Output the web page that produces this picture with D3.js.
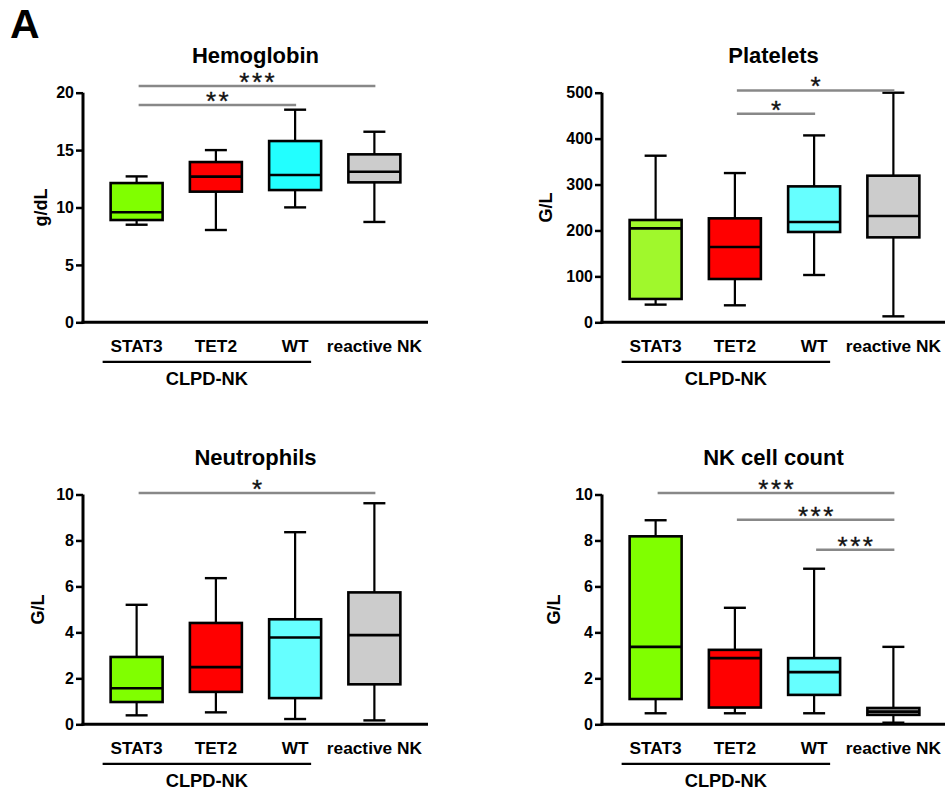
<!DOCTYPE html>
<html>
<head>
<meta charset="utf-8">
<script src="https://cdn.jsdelivr.net/npm/d3@7"></script>
<style>
  html, body { margin: 0; padding: 0; background: #fff; }
  svg { display: block; }
  text { font-family: "Liberation Sans", Arial, Helvetica, sans-serif; }
</style>
</head>
<body>
<svg id="chart" width="945" height="793"></svg>
<script>
// ---------- DATA ----------
const categories = ["STAT3", "TET2", "WT", "reactive NK"];
const groupLabel = "CLPD-NK";
const panelLetter = "A";

// box stats per category: [lower whisker, Q1, median, Q3, upper whisker]
const hemoglobinStats = [
  [8.5, 8.91, 9.58, 12.13, 12.71],
  [8.04, 11.38, 12.69, 13.96, 15.0],
  [10.01, 11.52, 12.83, 15.79, 18.52],
  [8.74, 12.19, 13.12, 14.63, 16.6]
];
const plateletsStats = [
  [38.5, 50.8, 204.6, 222.8, 362.8],
  [37, 94.3, 164, 226.4, 325],
  [103, 196.7, 218.4, 296, 407],
  [13, 185, 231.5, 319.3, 500]
];
const neutrophilsStats = [
  [0.39, 0.97, 1.57, 2.93, 5.2],
  [0.52, 1.41, 2.49, 4.41, 6.36],
  [0.23, 1.14, 3.78, 4.57, 8.36],
  [0.17, 1.74, 3.88, 5.74, 9.62]
];
const nkStats = [
  [0.48, 1.10, 3.37, 8.18, 8.88],
  [0.48, 0.73, 2.88, 3.24, 5.07],
  [0.48, 1.28, 2.27, 2.88, 6.77],
  [0.07, 0.41, 0.55, 0.71, 3.37]
];

const hemoglobinTicks = [0, 5, 10, 15, 20];
const plateletsTicks = [0, 100, 200, 300, 400, 500];
const neutrophilsTicks = [0, 2, 4, 6, 8, 10];
const nkTicks = [0, 2, 4, 6, 8, 10];

// significance brackets: [fromIndex, toIndex, level (data units), label]
const hemoglobinSig = [[0, 3, 20.58, "***"], [0, 2, 18.93, "**"]];
const plateletsSig = [[1, 3, 505, "*"], [1, 2, 454, "*"]];
const neutrophilsSig = [[0, 3, 10.06, "*"]];
const nkSig = [[0, 3, 10.06, "***"], [1, 3, 8.9, "***"], [2, 3, 7.6, "***"]];

const hemoglobinColors = ["#80FF00", "#FF0000", "#22FFFF", "#CCCCCC"];
const plateletsColors = ["#A0F82C", "#FF0000", "#66FFFF", "#CCCCCC"];
const neutrophilsColors = ["#80FF00", "#FF0000", "#66FFFF", "#CCCCCC"];
const nkColors = ["#80FF00", "#FF0000", "#66FFFF", "#AAAAAA"];

// ---------- LAYOUT ----------
const panels = [
  { title: "Hemoglobin", unit: "g/dL", stats: hemoglobinStats, ticks: hemoglobinTicks, sig: hemoglobinSig, colors: hemoglobinColors,
    x0: 83, yTop: 92.7, yBottom: 322.3, width: 345, labelOffset: 42 },
  { title: "Platelets", unit: "G/L", stats: plateletsStats, ticks: plateletsTicks, sig: plateletsSig, colors: plateletsColors,
    x0: 602, yTop: 92.7, yBottom: 322.3, width: 343, labelOffset: 56 },
  { title: "Neutrophils", unit: "G/L", stats: neutrophilsStats, ticks: neutrophilsTicks, sig: neutrophilsSig, colors: neutrophilsColors,
    x0: 83, yTop: 494.5, yBottom: 724.3, width: 345, labelOffset: 45 },
  { title: "NK cell count", unit: "G/L", stats: nkStats, ticks: nkTicks, sig: nkSig, colors: nkColors,
    x0: 602, yTop: 494.5, yBottom: 724.3, width: 343, labelOffset: 48 }
];

const svg = d3.select("#chart");

svg.append("text")
  .attr("x", 10).attr("y", 38)
  .attr("font-size", 41).attr("font-weight", "bold")
  .text(panelLetter);

panels.forEach(p => {
  const g = svg.append("g").attr("transform", `translate(${p.x0},0)`);
  const yMax = p.ticks[p.ticks.length - 1];
  const y = d3.scaleLinear().domain([0, yMax]).range([p.yBottom, p.yTop]);
  const x = d3.scaleBand().domain(categories).range([14, 331]).paddingInner(0.344).paddingOuter(0.172);
  const bw = x.bandwidth();
  const cx = c => x(c) + bw / 2;
  const capW = 22;

  // title
  g.append("text")
    .attr("x", p.width / 2).attr("y", p.yTop - 29.5)
    .attr("text-anchor", "middle")
    .attr("font-size", 22).attr("font-weight", "bold")
    .text(p.title);

  // y axis
  const yAxis = d3.axisLeft(y).tickValues(p.ticks).tickSize(7).tickPadding(2).tickFormat(d3.format("d"));
  const ya = g.append("g").call(yAxis);
  ya.attr("font-size", null).attr("font-family", null);
  ya.select(".domain").attr("stroke", "#000").attr("stroke-width", 3)
    .attr("d", `M0,${p.yTop}V${p.yBottom + 1.5}`);
  ya.selectAll(".tick line").attr("stroke", "#000").attr("stroke-width", 2.5);
  ya.selectAll(".tick text")
    .attr("fill", "#000")
    .style("font-size", "16px").style("font-weight", "bold")
    .style("font-family", '"Liberation Sans", Arial, sans-serif');

  // x axis line
  g.append("line")
    .attr("x1", -1.5).attr("x2", p.width)
    .attr("y1", y(0)).attr("y2", y(0))
    .attr("stroke", "#000").attr("stroke-width", 3);

  // y label
  g.append("text")
    .attr("transform", `translate(${-p.labelOffset},${(p.yTop + p.yBottom) / 2}) rotate(-90)`)
    .attr("text-anchor", "middle")
    .attr("dy", "0.35em")
    .attr("font-size", 18).attr("font-weight", "bold")
    .text(p.unit);

  // boxes
  categories.forEach((c, i) => {
    const [lo, q1, med, q3, hi] = p.stats[i];
    const bg = g.append("g");
    bg.append("line").attr("x1", cx(c)).attr("x2", cx(c)).attr("y1", y(hi)).attr("y2", y(q3))
      .attr("stroke", "#000").attr("stroke-width", 2.2);
    bg.append("line").attr("x1", cx(c)).attr("x2", cx(c)).attr("y1", y(q1)).attr("y2", y(lo))
      .attr("stroke", "#000").attr("stroke-width", 2.2);
    bg.append("line").attr("x1", cx(c) - capW / 2).attr("x2", cx(c) + capW / 2).attr("y1", y(hi)).attr("y2", y(hi))
      .attr("stroke", "#000").attr("stroke-width", 2.4);
    bg.append("line").attr("x1", cx(c) - capW / 2).attr("x2", cx(c) + capW / 2).attr("y1", y(lo)).attr("y2", y(lo))
      .attr("stroke", "#000").attr("stroke-width", 2.4);
    bg.append("rect")
      .attr("x", x(c)).attr("y", y(q3))
      .attr("width", bw).attr("height", y(q1) - y(q3))
      .attr("fill", p.colors[i]).attr("stroke", "#000").attr("stroke-width", 2.6);
    bg.append("line").attr("x1", x(c)).attr("x2", x(c) + bw).attr("y1", y(med)).attr("y2", y(med))
      .attr("stroke", "#000").attr("stroke-width", 2.6);
  });

  // category labels
  categories.forEach(c => {
    g.append("text")
      .attr("x", cx(c)).attr("y", y(0) + 30)
      .attr("text-anchor", "middle")
      .attr("font-size", 17.3).attr("font-weight", "bold")
      .text(c);
  });

  // group underline
  const gx1 = cx(categories[0]) - 34;
  const gx2 = cx(categories[2]) + 16;
  g.append("line")
    .attr("x1", gx1).attr("x2", gx2)
    .attr("y1", y(0) + 39.5).attr("y2", y(0) + 39.5)
    .attr("stroke", "#000").attr("stroke-width", 2.2);
  g.append("text")
    .attr("x", (gx1 + gx2) / 2).attr("y", y(0) + 63)
    .attr("text-anchor", "middle")
    .attr("font-size", 18.3).attr("font-weight", "bold")
    .text(groupLabel);

  // significance
  p.sig.forEach(([a, b, lvl, lab]) => {
    const xa = cx(categories[a]) + 2;
    const xb = cx(categories[b]) + 1;
    g.append("line")
      .attr("x1", xa).attr("x2", xb)
      .attr("y1", y(lvl)).attr("y2", y(lvl))
      .attr("stroke", "#888").attr("stroke-width", 2.5);
    g.append("text")
      .attr("x", (xa + xb) / 2 + 1.25).attr("y", y(lvl) + 5)
      .attr("text-anchor", "middle")
      .attr("font-size", 26)
      .attr("letter-spacing", 2.5)
      .attr("fill", "#111")
      .attr("stroke", "#111").attr("stroke-width", 0.35)
      .text(lab);
  });
});
</script>
</body>
</html>
